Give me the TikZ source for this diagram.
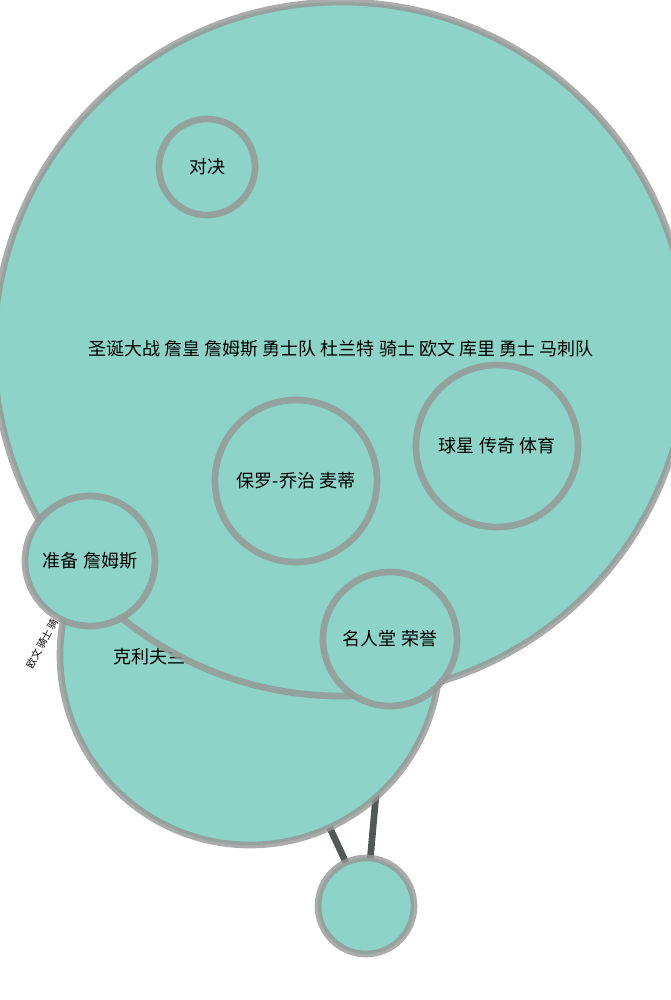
\documentclass[tikz,border=0pt]{standalone}
\usepackage{fontspec}
\newfontfamily\cjk{Noto Sans CJK SC}
\definecolor{bubble}{RGB}{141,211,199}
\definecolor{rim}{RGB}{150,150,150}
\definecolor{link}{RGB}{80,88,88}
\begin{document}
\begin{tikzpicture}[x=0.75pt,y=-0.75pt]
            \tikzset{
            topic node/.style={circle,fill=bubble,draw=rim,draw opacity=0.8,line width=5pt,inner sep=0,
                font=\cjk\fontsize{13.5}{15}\selectfont,minimum size=2*#1*0.75pt},
            topic link/.style={draw=link,line width=5pt},
            link label/.style={font=\cjk\fontsize{7.5}{8}\selectfont,inner sep=0}
            }
            \clip (0,0) rectangle (671,1000);
            \coordinate (bot) at (366,906);
            \coordinate (cle) at (250,655);
            \coordinate (hof) at (390,639);

            \path (bot) edge[topic link] (cle)
                  (bot) edge[topic link] (hof);
            \node[link label,rotate=62,anchor=west] (kyrie) at (29,668) {欧文 骑士 骑};

            \node[topic node=190] (cavs) at (cle) {};
            \node[anchor=west,inner sep=0,font=\cjk\fontsize{13.5}{15}\selectfont] (cavs text) at (113,657) {克利夫兰};
            \node[topic node=347] (main) at (341,349) {圣诞大战 詹皇 詹姆斯 勇士队 杜兰特 骑士 欧文 库里 勇士 马刺队};
            \node[topic node=48] (duel) at (207,167) {对决};
            \node[topic node=81] (pg) at (296,481) {保罗-乔治 麦蒂};
            \node[topic node=81] (legend) at (497,446) {球星 传奇 体育};
            \node[topic node=65] (ready) at (90,561) {准备 詹姆斯};
            \node[topic node=67] (fame) at (hof) {名人堂 荣誉};
            \node[topic node=48] (small) at (bot) {};
        \end{tikzpicture}
\end{document}
